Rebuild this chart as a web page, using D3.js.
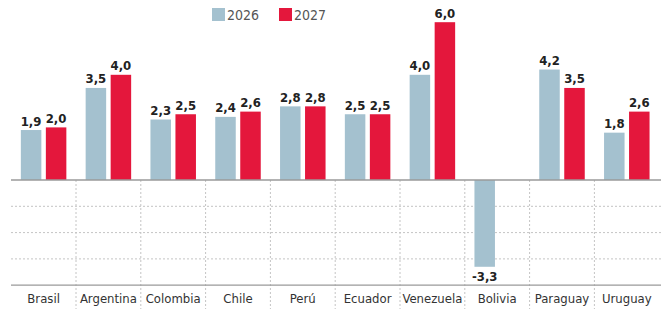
<!DOCTYPE html>
<html>
<head>
<meta charset="utf-8">
<script src="https://cdn.jsdelivr.net/npm/d3@7"></script>
<style>
  body { margin: 0; background: #fff; }
  svg { display: block; font-family: "DejaVu Sans Condensed", "DejaVu Sans", sans-serif; }
</style>
</head>
<body>
<svg id="chart" width="663" height="309"></svg>
<script>
// data
const countries = ['Brasil', 'Argentina', 'Colombia', 'Chile', 'Perú', 'Ecuador', 'Venezuela', 'Bolivia', 'Paraguay', 'Uruguay']
const series = ['2026', '2027']
const values_2026 = [1.9, 3.5, 2.3, 2.4, 2.8, 2.5, 4.0, -3.3, 4.2, 1.8]
const values_2027 = [2.0, 4.0, 2.5, 2.6, 2.8, 2.5, 6.0, null, 3.5, 2.6]
const grid_ticks = [-1, -2, -3]

const colors = { '2026': '#a4c1cf', '2027': '#e4173c' }

const svg = d3.select('#chart')

const x0 = d3.scaleBand().domain(countries).range([11.2, 659.2]).padding(0)
const x1 = d3.scaleBand().domain(series).range([9.65, 55.15]).paddingInner(0.18)
const y = d3.scaleLinear().domain([-4, 6]).range([285.2, 22.2])

// comma decimals, plain hyphen for negatives
const fmt = d3.formatLocale({ decimal: ',', thousands: '.', grouping: [3], currency: ['', ''], minus: '-' }).format('.1f')

const rows = []
countries.forEach((c, i) => {
    rows.push({ country: c, year: '2026', value: values_2026[i] })
    if (values_2027[i] !== null) rows.push({ country: c, year: '2027', value: values_2027[i] })
})

// dotted gridlines below zero
svg.append('g')
    .selectAll('line')
    .data(grid_ticks)
    .enter()
    .append('line')
    .attr('x1', 11)
    .attr('x2', 661)
    .attr('y1', d => y(d))
    .attr('y2', d => y(d))
    .attr('stroke', '#c4c4c4')
    .attr('stroke-width', 1)
    .attr('stroke-dasharray', '2,2')

// vertical dividers between countries
svg.append('g')
    .selectAll('line')
    .data(countries.slice(1))
    .enter()
    .append('line')
    .attr('x1', d => x0(d))
    .attr('x2', d => x0(d))
    .attr('y1', y(0))
    .attr('y2', 309)
    .attr('stroke', '#c4c4c4')
    .attr('stroke-width', 1)
    .attr('stroke-dasharray', '2,2')

// bars
svg.append('g')
    .selectAll('rect')
    .data(rows)
    .enter()
    .append('rect')
    .attr('x', d => x0(d.country) + x1(d.year))
    .attr('y', d => y(Math.max(0, d.value)))
    .attr('width', x1.bandwidth())
    .attr('height', d => Math.abs(y(d.value) - y(0)))
    .attr('fill', d => colors[d.year])

// zero line and bottom line
svg.append('line')
    .attr('x1', 11).attr('x2', 661)
    .attr('y1', y(0)).attr('y2', y(0))
    .attr('stroke', '#9a9a9a').attr('stroke-width', 1.3)
svg.append('line')
    .attr('x1', 11).attr('x2', 661)
    .attr('y1', y(-4)).attr('y2', y(-4))
    .attr('stroke', '#9a9a9a').attr('stroke-width', 1.3)

// value labels
svg.append('g')
    .selectAll('text')
    .data(rows)
    .enter()
    .append('text')
    .attr('x', d => x0(d.country) + x1(d.year) + x1.bandwidth() / 2)
    .attr('y', d => d.value >= 0 ? y(d.value) - 4.5 : y(d.value) + 14)
    .attr('text-anchor', 'middle')
    .attr('font-size', '13px')
    .attr('font-weight', 'bold')
    .attr('fill', '#222')
    .text(d => fmt(d.value))

// category labels
svg.append('g')
    .selectAll('text')
    .data(countries)
    .enter()
    .append('text')
    .attr('x', d => x0(d) + x0.bandwidth() / 2)
    .attr('y', 303)
    .attr('text-anchor', 'middle')
    .attr('font-size', '13px')
    .attr('fill', '#333')
    .text(d => d)

// legend
const legend = svg.append('g')
    .selectAll('g')
    .data(series)
    .enter()
    .append('g')
    .attr('transform', (d, i) => 'translate(' + (212 + i * 67) + ',8)')
legend.append('rect')
    .attr('width', 13)
    .attr('height', 13)
    .attr('fill', d => colors[d])
legend.append('text')
    .attr('x', 15)
    .attr('y', 12)
    .attr('font-size', '14px')
    .attr('fill', '#555')
    .text(d => d)
</script>
</body>
</html>
